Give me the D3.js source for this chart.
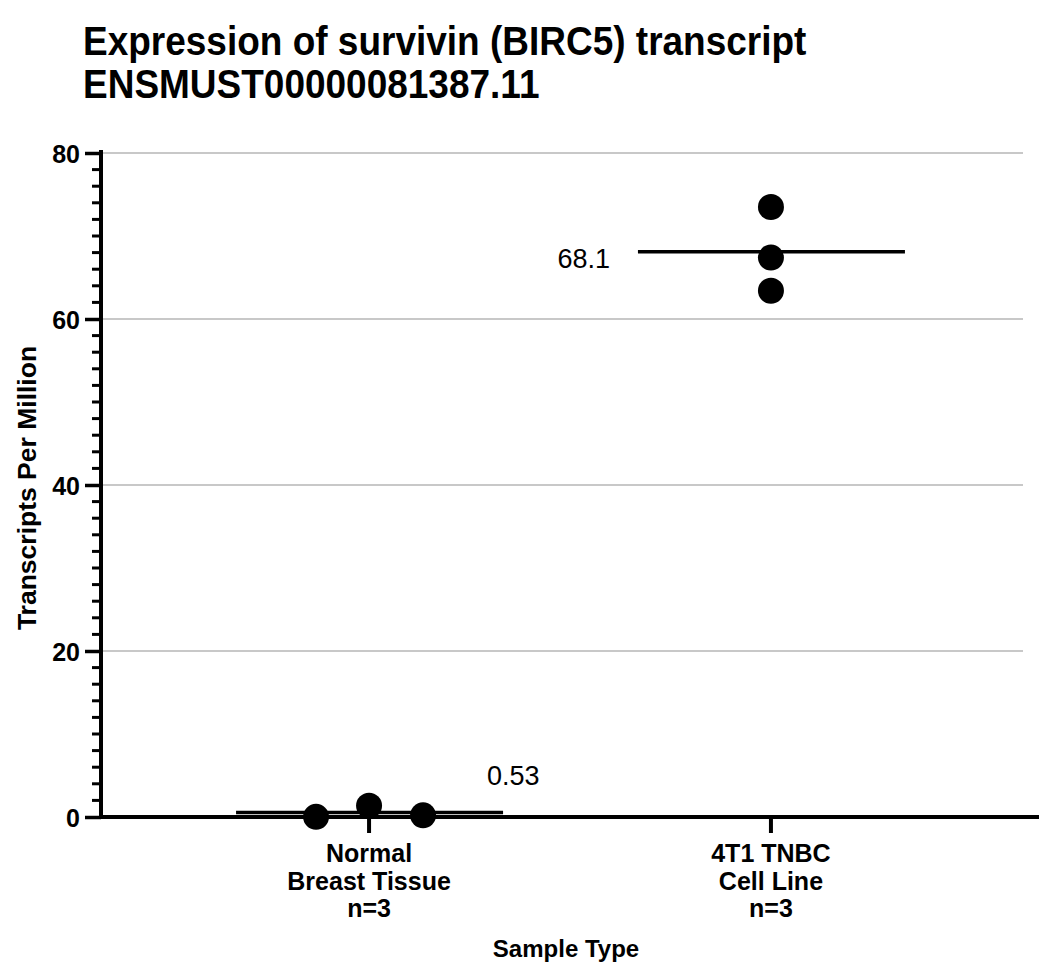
<!DOCTYPE html>
<html>
<head>
<meta charset="utf-8" />
<title>survivin BIRC5 expression</title>
<style>
  body { margin: 0; background: #fff; }
  text { font-family: "Liberation Sans", Arial, Helvetica, sans-serif; fill: #000; }
</style>
</head>
<body>
<div id="wrapper"></div>
<script src="https://d3js.org/d3.v7.min.js" charset="utf-8"></script>
<script>
// chart data
const titleLines = ["Expression of survivin (BIRC5) transcript", "ENSMUST00000081387.11"]
const groups = ["Normal Breast Tissue", "4T1 TNBC Cell Line"]
const groupLabels = [["Normal", "Breast Tissue", "n=3"], ["4T1 TNBC", "Cell Line", "n=3"]]
const normalTPM = [0.02, 1.37, 0.20]
const tnbcTPM = [73.5, 67.4, 63.4]
const meanLabels = ["0.53", "68.1"]
const yTicks = [0, 20, 40, 60, 80]
const yTitle = "Transcripts Per Million"
const xTitle = "Sample Type"

const values = [normalTPM, tnbcTPM]
// horizontal spread of the dots (layout only)
const jitter = [[-53, 0, 54], [0, 0, 0]]

const width = 1047
const height = 965
const plotL = 101, plotR = 1039, plotT = 153, plotB = 817

const svg = d3.select("#wrapper").append("svg")
    .attr("width", width)
    .attr("height", height)

const x = d3.scalePoint()
    .domain(groups)
    .range([plotL, plotR])
    .padding(0.667)

const y = d3.scaleLinear()
    .domain([0, 80])
    .range([plotB, plotT])

// title (glyphs in the source are a little taller than wide)
svg.append("g").selectAll("text")
    .data(titleLines)
    .join("text")
    .attr("transform", (d, i) => `translate(83,${55 + i * 43}) scale(1,1.12)`)
    .attr("font-size", 37)
    .attr("font-weight", "bold")
    .text(d => d)

// gridlines
svg.append("g").selectAll("line")
    .data(yTicks.filter(d => d > 0))
    .join("line")
    .attr("x1", plotL)
    .attr("x2", 1023)
    .attr("y1", d => y(d))
    .attr("y2", d => y(d))
    .attr("stroke", "#c8c8c8")
    .attr("stroke-width", 2)

// y axis with minor ticks
const minor = d3.range(0, 81, 2).filter(d => d % 20 !== 0)
const yAxisG = svg.append("g").attr("transform", `translate(${plotL},0)`)
yAxisG.selectAll("line.minor")
    .data(minor)
    .join("line")
    .attr("class", "minor")
    .attr("x1", -9).attr("x2", 0)
    .attr("y1", d => y(d)).attr("y2", d => y(d))
    .attr("stroke", "#000").attr("stroke-width", 3)
yAxisG.call(d3.axisLeft(y).tickValues(yTicks).tickSize(16).tickPadding(5))
yAxisG.select(".domain").remove()
yAxisG.selectAll(".tick line").attr("stroke", "#000").attr("stroke-width", 3.5)
yAxisG.selectAll(".tick text")
    .attr("font-size", 25)
    .attr("font-weight", "bold")
    .attr("font-family", "'Liberation Sans', Arial, sans-serif")
    .attr("fill", "#000")
    .attr("dy", "0.36em")
yAxisG.append("line")
    .attr("x1", 0).attr("x2", 0)
    .attr("y1", plotT - 3).attr("y2", plotB + 2)
    .attr("stroke", "#000").attr("stroke-width", 4)

// x axis
const xAxisG = svg.append("g").attr("transform", `translate(0,${plotB})`)
xAxisG.append("line")
    .attr("x1", plotL - 2).attr("x2", plotR)
    .attr("y1", 0).attr("y2", 0)
    .attr("stroke", "#000").attr("stroke-width", 4)
xAxisG.selectAll("line.tick")
    .data(groups)
    .join("line")
    .attr("class", "tick")
    .attr("x1", d => x(d)).attr("x2", d => x(d))
    .attr("y1", 0).attr("y2", 16)
    .attr("stroke", "#000").attr("stroke-width", 4)
xAxisG.selectAll("text.cat")
    .data(groups)
    .join("text")
    .attr("class", "cat")
    .attr("text-anchor", "middle")
    .attr("font-size", 25)
    .attr("font-weight", "bold")
    .attr("transform", d => `translate(${x(d)},45)`)
    .each(function(d, i) {
        d3.select(this).selectAll("tspan")
            .data(groupLabels[i])
            .join("tspan")
            .attr("x", 0)
            .attr("y", (t, j) => j * 27.5)
            .text(t => t)
    })

// axis titles
svg.append("text")
    .attr("x", 566)
    .attr("y", 957)
    .attr("text-anchor", "middle")
    .attr("font-size", 24)
    .attr("font-weight", "bold")
    .text(xTitle)

svg.append("text")
    .attr("transform", `translate(36,488) rotate(-90)`)
    .attr("text-anchor", "middle")
    .attr("font-size", 26.5)
    .attr("font-weight", "bold")
    .text(yTitle)

// mean lines
const means = values.map(v => d3.mean(v))
svg.append("g").selectAll("line")
    .data(groups)
    .join("line")
    .attr("x1", d => x(d) - 133)
    .attr("x2", d => x(d) + 134)
    .attr("y1", (d, i) => y(means[i]))
    .attr("y2", (d, i) => y(means[i]))
    .attr("stroke", "#000")
    .attr("stroke-width", 3.5)

// points
groups.forEach((g, i) => {
    svg.append("g").selectAll("circle")
        .data(values[i])
        .join("circle")
        .attr("cx", (d, j) => x(g) + jitter[i][j])
        .attr("cy", d => y(d))
        .attr("r", 13)
        .attr("fill", "#000")
})

// mean value labels
svg.append("text")
    .attr("x", x(groups[0]) + 118)
    .attr("y", y(means[0]) - 28)
    .attr("font-size", 27)
    .text(meanLabels[0])

svg.append("text")
    .attr("x", x(groups[1]) - 161)
    .attr("y", y(means[1]) + 16)
    .attr("text-anchor", "end")
    .attr("font-size", 27)
    .text(meanLabels[1])
</script>
</body>
</html>
